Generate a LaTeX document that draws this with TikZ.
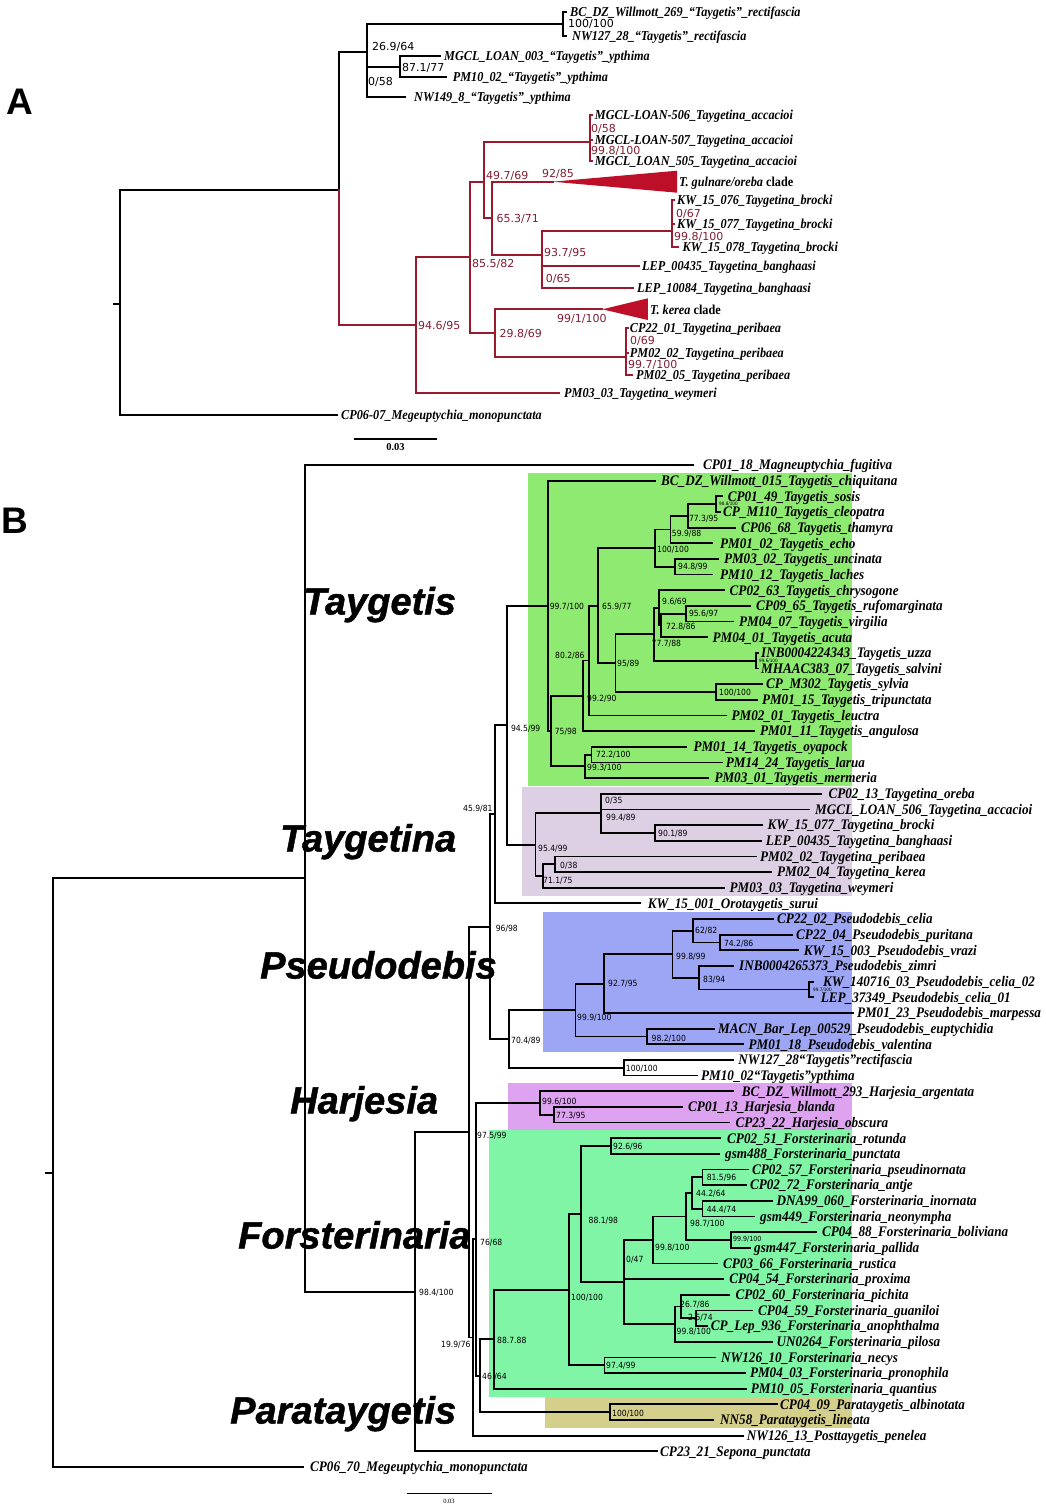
\documentclass[tikz,border=0pt]{standalone}
\usepackage{fontspec}
\setmainfont{Liberation Serif}
\newfontfamily\tipfam{Liberation Serif}[FakeStretch=0.9]
\newfontfamily\numfam{Liberation Serif}
\newfontfamily\supfam{DejaVu Sans}[FakeStretch=0.9]
\newfontfamily\supfamA{DejaVu Sans}
\newfontfamily\genfam{Liberation Sans}[FakeBold=1.2]
\newfontfamily\panfam{Liberation Sans}
\definecolor{cRed}{RGB}{155,25,45}
\definecolor{cRedT}{RGB}{130,30,50}
\definecolor{cTri}{RGB}{190,15,40}
\definecolor{cTay}{RGB}{142,234,112}
\definecolor{cTgt}{RGB}{221,208,229}
\definecolor{cPse}{RGB}{157,166,245}
\definecolor{cHar}{RGB}{221,162,240}
\definecolor{cFor}{RGB}{128,245,165}
\definecolor{cPar}{RGB}{213,207,140}
\newcounter{sc}
\begin{document}
\catcode`\_=12
\begin{tikzpicture}[x=1pt,y=-1pt,
  bl/.style={line width=1.8pt,line cap=rect},
  ab/.style={line width=2pt,black,line cap=rect},
  ar/.style={line width=2pt,cRed,line cap=rect},
  btip/.style={anchor=west,inner sep=0pt,font=\tipfam\fontsize{14.6}{15}\selectfont\bfseries\itshape,text height=9.6pt,text depth=0pt},
  atip/.style={anchor=west,inner sep=0pt,font=\tipfam\fontsize{13.6}{14}\selectfont\bfseries\itshape,text height=9pt,text depth=0pt},
  bsup/.style={anchor=west,inner sep=0pt,font=\supfam\fontsize{8.5}{9}\selectfont,text height=6.2pt,text depth=0pt},
  bsups/.style={anchor=west,inner sep=0pt,font=\supfam\fontsize{7}{8}\selectfont,text height=5.1pt,text depth=0pt},
  bsupt/.style={anchor=west,inner sep=0pt,font=\supfam\fontsize{4.6}{5}\selectfont,text height=3.3pt,text depth=0pt},
  asup/.style={anchor=west,inner sep=0pt,font=\supfamA\fontsize{11}{12}\selectfont,text height=8pt,text depth=0pt},
  genus/.style={anchor=west,inner sep=0pt,font=\genfam\fontsize{38}{40}\selectfont\bfseries\itshape,text height=27pt,text depth=0pt},
  panel/.style={inner sep=0pt,font=\panfam\fontsize{37}{40}\selectfont\bfseries}]
\newcommand\tipB[4]{\coordinate (b#1) at (#2,465+15.656*#1);\node[btip] (lb#1) at (#3,465+15.656*#1) {#4};}
\newcommand\eB[2]{\draw[bl] (#1) |- (#2);}
\newcommand\sB[3]{\stepcounter{sc}\node[bsup] (sup\arabic{sc}) at (#1,#2) {#3};}
\newcommand\tipA[5]{\coordinate (#1) at (#2,#4);\node[atip] (l#1) at (#3,#4) {#5};}
\newcommand\sA[4]{\stepcounter{sc}\node[asup,#1] (sup\arabic{sc}) at (#2,#3) {#4};}
\useasboundingbox (0,0) rectangle (1046,1510);
\fill[white] (0,0) rectangle (1046,1510);

% ================= PANEL A =================
\node[panel] (pA) at (20,102) {A};
\coordinate (Aroot) at (120,304);
\coordinate (Ntop) at (338.6,190);
\coordinate (N269) at (366.7,52);
\coordinate (Nrect) at (563,24);
\coordinate (N871) at (400,67);
\coordinate (N946) at (415.8,325);
\coordinate (N855) at (469.5,257);
\coordinate (N497) at (484.2,181.7);
\coordinate (Nacc) at (589.5,142);
\coordinate (N653) at (492.3,218);
\coordinate (TGa) at (552.6,181.7);
\coordinate (N937) at (542.1,255);
\coordinate (Nbro) at (672,230.7);
\coordinate (N298) at (494.7,333);
\coordinate (TKa) at (602.4,309.3);
\coordinate (Nper) at (626.3,356.7);
\coordinate (Atick) at (114,304);

\tipA{a1}{566}{570}{12}{BC_DZ_Willmott_269_“Taygetis”_rectifascia}
\tipA{a2}{566}{572}{36}{NW127_28_“Taygetis”_rectifascia}
\tipA{a3}{440}{444}{56}{MGCL_LOAN_003_“Taygetis”_ypthima}
\tipA{a4}{445.6}{452.6}{77}{PM10_02_“Taygetis”_ypthima}
\tipA{a5}{405}{414}{97.3}{NW149_8_“Taygetis”_ypthima}
\tipA{a6}{591.5}{594.7}{115}{MGCL-LOAN-506_Taygetina_accacioi}
\tipA{a7}{591.5}{594.7}{140}{MGCL-LOAN-507_Taygetina_accacioi}
\tipA{a8}{591.5}{594.7}{161}{MGCL_LOAN_505_Taygetina_accacioi}
\tipA{a9}{674}{677}{200}{KW_15_076_Taygetina_brocki}
\tipA{a10}{674}{677}{224}{KW_15_077_Taygetina_brocki}
\tipA{a11}{678}{682.5}{246.7}{KW_15_078_Taygetina_brocki}
\tipA{a12}{638.6}{642}{266}{LEP_00435_Taygetina_banghaasi}
\tipA{a13}{633.3}{637}{288.3}{LEP_10084_Taygetina_banghaasi}
\tipA{a14}{628}{629.7}{328.3}{CP22_01_Taygetina_peribaea}
\tipA{a15}{628}{629.7}{352.7}{PM02_02_Taygetina_peribaea}
\tipA{a16}{632}{636}{375}{PM02_05_Taygetina_peribaea}
\tipA{a17}{559.3}{564}{393.3}{PM03_03_Taygetina_weymeri}
\tipA{a18}{337}{341}{415}{CP06-07_Megeuptychia_monopunctata}

\draw[ab] (Atick) -- (Aroot);
\draw[ab] (Aroot) |- (Ntop);
\draw[ab] (Aroot) |- (a18);
\draw[ab] (Ntop) |- (N269);
\foreach \c in {Nrect,N871,a5} \draw[ab] (N269) |- (\c);
\foreach \c in {a1,a2} \draw[ab] (Nrect) |- (\c);
\foreach \c in {a3,a4} \draw[ab,line width=2.6pt] (N871) |- (\c);
\draw[ar] (Ntop) |- (N946);
\foreach \c in {N855,a17} \draw[ar] (N946) |- (\c);
\foreach \c in {N497,N298} \draw[ar] (N855) |- (\c);
\foreach \c in {Nacc,N653} \draw[ar] (N497) |- (\c);
\foreach \c in {a6,a7,a8} \draw[ar] (Nacc) |- (\c);
\foreach \c in {TGa,N937} \draw[ar] (N653) |- (\c);
\foreach \c in {Nbro,a12,a13} \draw[ar] (N937) |- (\c);
\foreach \c in {a9,a10,a11} \draw[ar] (Nbro) |- (\c);
\foreach \c in {TKa,Nper} \draw[ar] (N298) |- (\c);
\foreach \c in {a14,a15,a16} \draw[ar] (Nper) |- (\c);
\fill[cTri] (TGa) -- (677.2,170.7) -- (677.2,192.7) -- cycle;
\fill[cTri] (TKa) -- (647.8,298.3) -- (647.8,320) -- cycle;
\node[atip] (lTG) at (679,181.7) {T. gulnare/oreba {\upshape clade}};
\node[atip] (lTK) at (650,310) {T. kerea {\upshape clade}};

\sA{black}{568}{23.5}{100/100}
\sA{black}{372}{46}{26.9/64}
\sA{black}{402}{67}{87.1/77}
\sA{black}{368}{81}{0/58}
\sA{cRedT}{591}{128.5}{0/58}
\sA{cRedT}{591}{150.5}{99.8/100}
\sA{cRedT}{486}{175}{49.7/69}
\sA{cRedT}{542}{173}{92/85}
\sA{cRedT}{676}{213}{0/67}
\sA{cRedT}{496.5}{218.5}{65.3/71}
\sA{cRedT}{674}{236}{99.8/100}
\sA{cRedT}{544}{252}{93.7/95}
\sA{cRedT}{472}{263}{85.5/82}
\sA{cRedT}{545.6}{278}{0/65}
\sA{cRedT}{557}{318.3}{99/1/100}
\sA{cRedT}{418}{325}{94.6/95}
\sA{cRedT}{499.5}{333.3}{29.8/69}
\sA{cRedT}{630}{340.7}{0/69}
\sA{cRedT}{628}{364}{99.7/100}

\coordinate (sa1) at (353.6,439);
\coordinate (sa2) at (437.3,439);
\draw[line width=2pt] (sa1) -- (sa2);
\node[inner sep=0pt,font=\numfam\fontsize{10.5}{11}\selectfont\bfseries] (sat) at (395.5,447.5) {0.03};

% ================= PANEL B =================
\node[panel] (pB) at (15,521) {B};
\fill[cTay] (528,473.3) rectangle (852.3,786);
\fill[cTgt] (521.5,786.7) rectangle (852.3,896);
\fill[cPse] (543.2,911.7) rectangle (852.3,1051.7);
\fill[cHar] (507.8,1083.3) rectangle (851.9,1130);
\fill[cFor] (488.5,1130) rectangle (852,1396.7);
\fill[cPar] (544.7,1396.7) rectangle (852,1428.3);

\tipB{0}{693.3}{702.8}{CP01_18_Magneuptychia_fugitiva}
\tipB{1}{655.3}{661}{BC_DZ_Willmott_015_Taygetis_chiquitana}
\tipB{2}{722}{727.6}{CP01_49_Taygetis_sosis}
\tipB{3}{720}{723}{CP_M110_Taygetis_cleopatra}
\tipB{4}{735.2}{740.9}{CP06_68_Taygetis_thamyra}
\tipB{5}{712.4}{720}{PM01_02_Taygetis_echo}
\tipB{6}{718}{723.8}{PM03_02_Taygetis_uncinata}
\tipB{7}{712.4}{720}{PM10_12_Taygetis_laches}
\tipB{8}{723.8}{729.5}{CP02_63_Taygetis_chrysogone}
\tipB{9}{750.4}{756}{CP09_65_Taygetis_rufomarginata}
\tipB{10}{733.3}{739}{PM04_07_Taygetis_virgilia}
\tipB{11}{706.7}{712.4}{PM04_01_Taygetis_acuta}
\tipB{12}{758}{761}{INB0004224343_Taygetis_uzza}
\tipB{13}{758}{761}{MHAAC383_07_Taygetis_salvini}
\tipB{14}{762}{766}{CP_M302_Taygetis_sylvia}
\tipB{15}{757.2}{761.8}{PM01_15_Taygetis_tripunctata}
\tipB{16}{725.7}{731.4}{PM02_01_Taygetis_leuctra}
\tipB{17}{754.2}{759.9}{PM01_11_Taygetis_angulosa}
\tipB{18}{685.7}{693.3}{PM01_14_Taygetis_oyapock}
\tipB{19}{721.9}{725.7}{PM14_24_Taygetis_larua}
\tipB{20}{708.5}{714.3}{PM03_01_Taygetis_mermeria}
\tipB{21}{820.7}{828.3}{CP02_13_Taygetina_oreba}
\tipB{22}{809.3}{815}{MGCL_LOAN_506_Taygetina_accacioi}
\tipB{23}{761.8}{767.5}{KW_15_077_Taygetina_brocki}
\tipB{24}{761}{765.6}{LEP_00435_Taygetina_banghaasi}
\tipB{25}{756}{760}{PM02_02_Taygetina_peribaea}
\tipB{26}{771.3}{777}{PM02_04_Taygetina_kerea}
\tipB{27}{723.8}{729.5}{PM03_03_Taygetina_weymeri}
\tipB{28}{640}{647.7}{KW_15_001_Orotaygetis_surui}
\tipB{29}{773.2}{777}{CP22_02_Pseudodebis_celia}
\tipB{30}{792.2}{796}{CP22_04_Pseudodebis_puritana}
\tipB{31}{797.9}{803.6}{KW_15_003_Pseudodebis_vrazi}
\tipB{32}{733.3}{739}{INB0004265373_Pseudodebis_zimri}
\tipB{33}{813}{823}{KW_140716_03_Pseudodebis_celia_02}
\tipB{34}{813}{820.7}{LEP_37349_Pseudodebis_celia_01}
\tipB{35}{853}{856.8}{PM01_23_Pseudodebis_marpessa}
\tipB{36}{714.3}{718}{MACN_Bar_Lep_00529_Pseudodebis_euptychidia}
\tipB{37}{742.8}{748.5}{PM01_18_Pseudodebis_valentina}
\tipB{38}{733.3}{738.2}{NW127_28“Taygetis”rectifascia}
\tipB{39}{697}{701}{PM10_02“Taygetis”ypthima}
\tipB{40}{733.3}{741.6}{BC_DZ_Willmott_293_Harjesia_argentata}
\tipB{41}{681.9}{688}{CP01_13_Harjesia_blanda}
\tipB{42}{729}{735.4}{CP23_22_Harjesia_obscura}
\tipB{43}{720}{727}{CP02_51_Forsterinaria_rotunda}
\tipB{44}{719}{725}{gsm488_Forsterinaria_punctata}
\tipB{45}{747.7}{751.9}{CP02_57_Forsterinaria_pseudinornata}
\tipB{46}{745.7}{749.8}{CP02_72_Forsterinaria_antje}
\tipB{47}{772.4}{776.5}{DNA99_060_Forsterinaria_inornata}
\tipB{48}{753.9}{760}{gsm449_Forsterinaria_neonympha}
\tipB{49}{815.6}{821.8}{CP04_88_Forsterinaria_boliviana}
\tipB{50}{749.8}{754}{gsm447_Forsterinaria_pallida}
\tipB{51}{716.9}{723}{CP03_66_Forsterinaria_rustica}
\tipB{52}{723}{729.2}{CP04_54_Forsterinaria_proxima}
\tipB{53}{729}{735.4}{CP02_60_Forsterinaria_pichita}
\tipB{54}{751.9}{758}{CP04_59_Forsterinaria_guaniloi}
\tipB{55}{706.6}{710.7}{CP_Lep_936_Forsterinaria_anophthalma}
\tipB{56}{772.4}{776.5}{UN0264_Forsterinaria_pilosa}
\tipB{57}{714.8}{721}{NW126_10_Forsterinaria_necys}
\tipB{58}{744.9}{749.8}{PM04_03_Forsterinaria_pronophila}
\tipB{59}{745.7}{750.6}{PM10_05_Forsterinaria_quantius}
\tipB{60}{776.7}{780}{CP04_09_Parataygetis_albinotata}
\tipB{61}{713.3}{720}{NN58_Parataygetis_lineata}
\tipB{62}{743.3}{746.7}{NW126_13_Posttaygetis_penelea}
\tipB{63}{656.7}{660}{CP23_21_Sepona_punctata}
\tipB{64}{303.3}{310}{CP06_70_Megeuptychia_monopunctata}

% internal nodes
\coordinate (Tsc) at (716.2,504.14);
\coordinate (T77) at (687.6,515.88);
\coordinate (T59) at (670.5,529.58);
\coordinate (T948) at (675,566.77);
\coordinate (T100) at (655.3,548.17);
\coordinate (T956) at (685.7,613.73);
\coordinate (T728) at (661,625.48);
\coordinate (T96) at (659,607.86);
\coordinate (T996) at (756.1,660.70);
\coordinate (T777) at (654,634.28);
\coordinate (Tsyl) at (716.2,692.01);
\coordinate (T95) at (615.4,663.15);
\coordinate (T659) at (598.3,605.66);
\coordinate (T992) at (588.8,660.58);
\coordinate (T802) at (583,695.87);
\coordinate (T722) at (591.4,754.64);
\coordinate (T993) at (585,766.38);
\coordinate (T75) at (550.8,731.13);
\coordinate (T997) at (548,605.90);
\coordinate (T901) at (655.3,832.92);
\coordinate (Tg1) at (601.3,813.35);
\coordinate (Tg4) at (554.6,864.23);
\coordinate (Tg3) at (543.2,875.97);
\coordinate (Tg2) at (535.5,844.66);
\coordinate (T945) at (506.7,725.28);
\coordinate (N495) at (495,814.33);
\coordinate (P742) at (720,942.51);
\coordinate (P62) at (693.3,930.77);
\coordinate (P997) at (809.3,989.48);
\coordinate (P83) at (699,977.73);
\coordinate (P998) at (672.4,954.25);
\coordinate (P927) at (604,983.61);
\coordinate (P982) at (647,1036.45);
\coordinate (P999) at (575.5,1010.03);
\coordinate (P100) at (624,1067.76);
\coordinate (P704) at (509,1038.89);
\coordinate (N490) at (490,926.61);
\coordinate (H773) at (554.3,1114.73);
\coordinate (H996) at (540,1102.98);
\coordinate (F926) at (610.7,1146.04);
\coordinate (F815) at (702.5,1177.35);
\coordinate (F444) at (702.5,1208.66);
\coordinate (F442) at (692.2,1193.0);
\coordinate (F999) at (731.3,1239.97);
\coordinate (F987) at (686,1216.49);
\coordinate (F998a) at (653,1239.97);
\coordinate (F25) at (696.3,1318.25);
\coordinate (F267) at (681,1306.51);
\coordinate (F998b) at (675,1324.12);
\coordinate (F047) at (624.3,1282);
\coordinate (F881) at (581,1214.02);
\coordinate (F974) at (604.5,1365.22);
\coordinate (F100) at (568.7,1289.62);
\coordinate (F887) at (494,1339.16);
\coordinate (Para) at (610,1412.19);
\coordinate (N46) at (480,1375.68);
\coordinate (N76) at (476,1239.33);
\coordinate (N199) at (472.7,1337.5);
\coordinate (N975) at (469.3,1132.06);
\coordinate (NB) at (415,1291.7);
\coordinate (NA) at (305,878.35);
\coordinate (Broot) at (53.3,1172.67);
\coordinate (Btick) at (46,1172.67);

\draw[bl] (Btick) -- (Broot);
\eB{Broot}{NA}\eB{Broot}{b64}
\eB{NA}{b0}\eB{NA}{NB}
\eB{NB}{N975}\eB{NB}{b63}
\eB{N975}{N490}\eB{N975}{N199}
\eB{N199}{N76}\eB{N199}{b62}
\eB{N76}{H996}\eB{N76}{N46}
\eB{N46}{F887}\eB{N46}{Para}
\eB{F887}{F100}\eB{F887}{b59}
\eB{F100}{F881}\eB{F100}{F974}
\eB{F881}{F926}\eB{F881}{F047}
\eB{F926}{b43}\eB{F926}{b44}
\eB{F047}{F998a}\eB{F047}{b52}\eB{F047}{F998b}
\eB{F998a}{F987}\eB{F998a}{b51}
\eB{F987}{F442}\eB{F987}{F999}
\eB{F442}{F815}\eB{F442}{F444}
\eB{F815}{b45}\eB{F815}{b46}
\eB{F444}{b47}\eB{F444}{b48}
\eB{F999}{b49}\eB{F999}{b50}
\eB{F998b}{F267}\eB{F998b}{b56}
\eB{F267}{b53}\eB{F267}{F25}
\eB{F25}{b54}\eB{F25}{b55}
\eB{F974}{b57}\eB{F974}{b58}
\eB{Para}{b60}\eB{Para}{b61}
\eB{H996}{b40}\eB{H996}{H773}
\eB{H773}{b41}\eB{H773}{b42}
\eB{N490}{N495}\eB{N490}{P704}
\eB{P704}{P999}\eB{P704}{P100}
\eB{P100}{b38}\eB{P100}{b39}
\eB{P999}{P927}\eB{P999}{P982}
\eB{P982}{b36}\eB{P982}{b37}
\eB{P927}{P998}\eB{P927}{b35}
\eB{P998}{P62}\eB{P998}{P83}
\eB{P62}{b29}\eB{P62}{P742}
\eB{P742}{b30}\eB{P742}{b31}
\eB{P83}{b32}\eB{P83}{P997}
\eB{P997}{b33}\eB{P997}{b34}
\eB{N495}{T945}\eB{N495}{b28}
\eB{T945}{T997}\eB{T945}{Tg2}
\eB{Tg2}{Tg1}\eB{Tg2}{Tg3}
\eB{Tg1}{b21}\eB{Tg1}{b22}\eB{Tg1}{T901}
\eB{T901}{b23}\eB{T901}{b24}
\eB{Tg3}{Tg4}\eB{Tg3}{b27}
\eB{Tg4}{b25}\eB{Tg4}{b26}
\eB{T997}{b1}\eB{T997}{T75}
\eB{T75}{T802}\eB{T75}{T993}
\eB{T993}{T722}\eB{T993}{b20}
\eB{T722}{b18}\eB{T722}{b19}
\eB{T802}{T992}\eB{T802}{b17}
\eB{T992}{T659}\eB{T992}{b16}
\eB{T659}{T100}\eB{T659}{T95}
\eB{T100}{T59}\eB{T100}{T948}
\eB{T59}{T77}\eB{T59}{b5}
\eB{T77}{Tsc}\eB{T77}{b4}
\eB{Tsc}{b2}\eB{Tsc}{b3}
\eB{T948}{b6}\eB{T948}{b7}
\eB{T95}{T777}\eB{T95}{Tsyl}
\eB{T777}{T96}\eB{T777}{T996}
\eB{T96}{b8}\eB{T96}{T728}
\eB{T728}{T956}\eB{T728}{b11}
\eB{T956}{b9}\eB{T956}{b10}
\eB{T996}{b12}\eB{T996}{b13}
\eB{Tsyl}{b14}\eB{Tsyl}{b15}

% support values B
\sB{549.6}{606.7}{99.7/100}
\sB{602}{606.7}{65.9/77}
\stepcounter{sc}\node[bsupt] (sup\arabic{sc}) at (719,504.3) {98.8/100};
\sB{688.8}{518.3}{77.3/95}
\sB{671.7}{533.3}{59.9/88}
\sB{657}{549.3}{100/100}
\sB{678}{566.7}{94.8/99}
\sB{662}{601.7}{9.6/69}
\sB{688.8}{613.3}{95.6/97}
\sB{666}{626.7}{72.8/86}
\sB{651.5}{643.3}{77.7/88}
\stepcounter{sc}\node[bsupt] (sup\arabic{sc}) at (759,660.9) {99.6/100};
\sB{617}{663.3}{95/89}
\sB{555}{655}{80.2/86}
\sB{719}{692.3}{100/100}
\sB{587}{698.3}{99.2/90}
\sB{554.6}{731.7}{75/98}
\sB{510.8}{728.3}{94.5/99}
\sB{596}{754.3}{72.2/100}
\sB{587}{767.3}{99.3/100}
\sB{463}{808}{45.9/81}
\sB{605}{800.7}{0/35}
\sB{606}{817.3}{99.4/89}
\sB{658}{833.3}{90.1/89}
\sB{538}{848.3}{95.4/99}
\sB{560}{865}{0/38}
\sB{543}{880}{71.1/75}
\sB{495.6}{928.3}{96/98}
\sB{695}{930}{62/82}
\sB{723.8}{943.3}{74.2/86}
\sB{676}{956}{99.8/99}
\sB{703}{979}{83/94}
\stepcounter{sc}\node[bsupt] (sup\arabic{sc}) at (813,989.5) {99.7/100};
\sB{608}{983.3}{92.7/95}
\sB{577}{1017.3}{99.9/100}
\sB{651.5}{1038.3}{98.2/100}
\sB{511}{1040}{70.4/89}
\sB{625.7}{1068.3}{100/100}
\sB{542}{1101.7}{99.6/100}
\sB{556}{1115.7}{77.3/95}
\sB{477}{1135}{97.5/99}
\sB{613}{1146.7}{92.6/96}
\sB{706.6}{1177.7}{81.5/96}
\sB{696}{1193.3}{44.2/64}
\sB{706.6}{1209.3}{44.4/74}
\sB{588.5}{1220}{88.1/98}
\sB{690}{1223.3}{98.7/100}
\stepcounter{sc}\node[bsups] (sup\arabic{sc}) at (733,1238.5) {99.9/100};
\sB{480}{1242}{76/68}
\sB{655}{1247}{99.8/100}
\sB{626}{1259.3}{0/47}
\sB{419}{1292}{98.4/100}
\sB{571}{1297.3}{100/100}
\sB{680}{1304}{26.7/86}
\sB{688}{1317.7}{2.5/74}
\sB{676.5}{1331.7}{99.8/100}
\sB{497}{1340}{88.7.88}
\sB{441}{1344}{19.9/76}
\sB{606}{1365.7}{97.4/99}
\sB{482}{1376}{46 /64}
\sB{612}{1413}{100/100}

% genus labels
\node[genus] (gTay) at (303,601) {Taygetis};
\node[genus] (gTgt) at (280,838) {Taygetina};
\node[genus] (gPse) at (260,965) {Pseudodebis};
\node[genus] (gHar) at (290,1100) {Harjesia};
\node[genus] (gFor) at (238,1235) {Forsterinaria};
\node[genus] (gPar) at (230,1410) {Parataygetis};

\coordinate (sb1) at (406.7,1493.3);
\coordinate (sb2) at (492,1493.3);
\draw[line width=1.5pt] (sb1) -- (sb2);
\node[inner sep=0pt,font=\numfam\fontsize{6.5}{7}\selectfont] (sbt) at (449,1501.5) {0.03};
\end{tikzpicture}
\end{document}
